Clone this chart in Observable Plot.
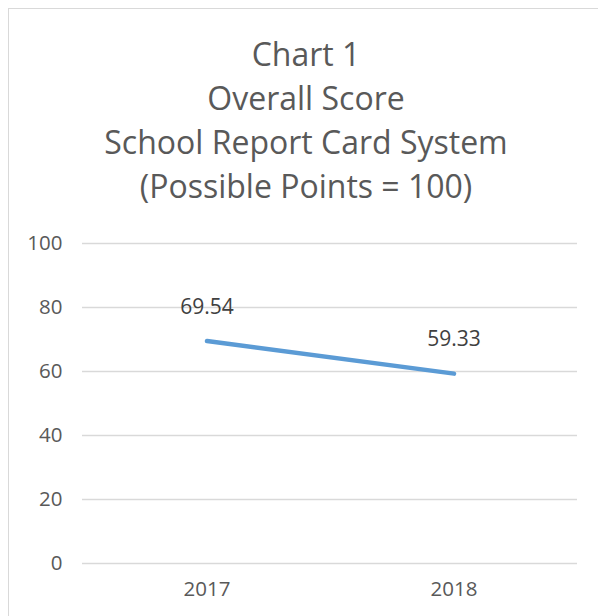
<!DOCTYPE html>
<html>
<head>
<meta charset="utf-8">
<script src="https://cdn.jsdelivr.net/npm/d3@7"></script>
<script src="https://cdn.jsdelivr.net/npm/@observablehq/plot@0.6"></script>
<style>
  html, body { margin: 0; padding: 0; background: #fff; }
  #wrap { position: relative; width: 598px; height: 616px; overflow: hidden; font-family: "Open Sans", sans-serif; }
  #frame { position: absolute; left: 8px; top: 8px; width: 700px; height: 700px; border-top: 1.5px solid #d9d9d9; border-left: 1.5px solid #d9d9d9; box-sizing: border-box; }
  #title { position: absolute; left: 8px; width: 596px; top: 32px; text-align: center; font-size: 32px; line-height: 44px; color: #595959; }
  #chart { position: absolute; left: 0; top: 220px; }
</style>
</head>
<body>
<div id="wrap">
  <div id="frame"></div>
  <div id="title">Chart 1<br>Overall Score<br>School Report Card System<br>(Possible Points = 100)</div>
  <div id="chart"></div>
</div>
<script>
const years = ["2017", "2018"];
const scores = [69.54, 59.33];
const yTicks = [0, 20, 40, 60, 80, 100];

const data = years.map((y, i) => ({year: y, score: scores[i]}));

const plot = Plot.plot({
  width: 598,
  height: 396,
  marginLeft: 82,
  marginRight: 21,
  marginTop: 23,
  marginBottom: 53,
  style: {fontFamily: "Open Sans, sans-serif", fontSize: "20px", background: "transparent"},
  x: {type: "band", domain: years, padding: 0},
  y: {domain: [0, 100]},
  marks: [
    Plot.gridY(yTicks, {stroke: "#d9d9d9", strokeOpacity: 1, strokeWidth: 1.5}),
    Plot.axisY(yTicks, {tickSize: 0, tickPadding: 20, fill: "#595959", fontSize: 20.5, label: null}),
    Plot.axisX({tickSize: 0, tickPadding: 18, fill: "#595959", fontSize: 20.5, label: null}),
    Plot.line(data, {x: "year", y: "score", stroke: "#5b9bd5", strokeWidth: 4.5, strokeLinecap: "round"}),
    Plot.text(data, {x: "year", y: "score", text: d => d.score.toFixed(2), dy: -34, fill: "#404040", fontSize: 21})
  ]
});
document.getElementById("chart").appendChild(plot);
</script>
</body>
</html>
